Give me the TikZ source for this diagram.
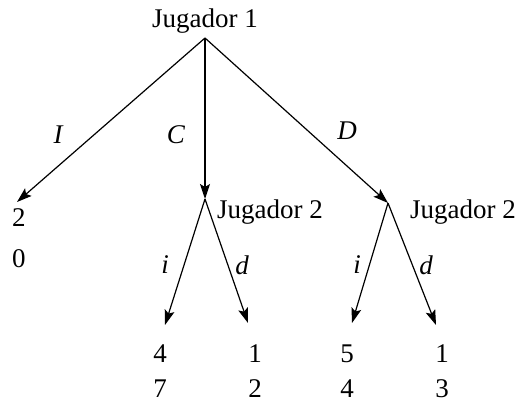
\documentclass[tikz,border=0pt]{standalone}
\usepackage{fontspec}
\setmainfont{Liberation Serif}
\usetikzlibrary{arrows.meta}
\begin{document}
\begin{tikzpicture}[x=1pt, y=-1pt,
  rama/.style={line width=1.2pt, -{Stealth[length=15pt, width=10pt, inset=3pt]}},
  texto/.style={font=\rmfamily\fontsize{27}{32}\selectfont, inner sep=0pt},
  etiq/.style={font=\rmfamily\fontsize{27}{32}\selectfont\itshape, inner sep=0pt}]
  \useasboundingbox (0,0) rectangle (519,404);

  % 1. 决策点与终点（像素坐标，y 向下）
  \coordinate (r)  at (205,38);
  \coordinate (tI) at (17,202);
  \coordinate (c2) at (205,199);
  \coordinate (d2) at (388,203);
  \coordinate (ci) at (165,325);
  \coordinate (cd) at (248,323);
  \coordinate (di) at (352,323);
  \coordinate (dd) at (436,325);

  % 2. 参与者
  \node[texto, anchor=base] (j1) at (205,28) {Jugador 1};
  \node[texto, anchor=base west] (j2c) at (217,218) {Jugador 2};
  \node[texto, anchor=base west] (j2d) at (410,218) {Jugador 2};

  % 3. 分支
  \draw[rama] (r) -- (tI);
  \draw[rama] (r) -- (c2);
  \draw[rama] (r) -- (d2);
  \draw[rama] (c2) -- (ci);
  \draw[rama] (c2) -- (cd);
  \draw[rama] (d2) -- (di);
  \draw[rama] (d2) -- (dd);

  % 4. 策略标签
  \node[etiq] (lI) at (58,135) {I};
  \node[etiq] (lC) at (176,135) {C};
  \node[etiq] (lD) at (347,131) {D};
  \node[etiq] (lci) at (165,265) {i};
  \node[etiq] (lcd) at (242,265) {d};
  \node[etiq] (ldi) at (357,265) {i};
  \node[etiq] (ldd) at (426,265) {d};

  % 5. 支付
  \node[texto] (pI1) at (19,218) {2};
  \node[texto] (pI2) at (19,259) {0};
  \node[texto] (pci1) at (160,354) {4};
  \node[texto] (pci2) at (160,389) {7};
  \node[texto] (pcd1) at (255,354) {1};
  \node[texto] (pcd2) at (255,389) {2};
  \node[texto] (pdi1) at (347,354) {5};
  \node[texto] (pdi2) at (347,389) {4};
  \node[texto] (pdd1) at (442,354) {1};
  \node[texto] (pdd2) at (442,389) {3};

\end{tikzpicture}
\end{document}
